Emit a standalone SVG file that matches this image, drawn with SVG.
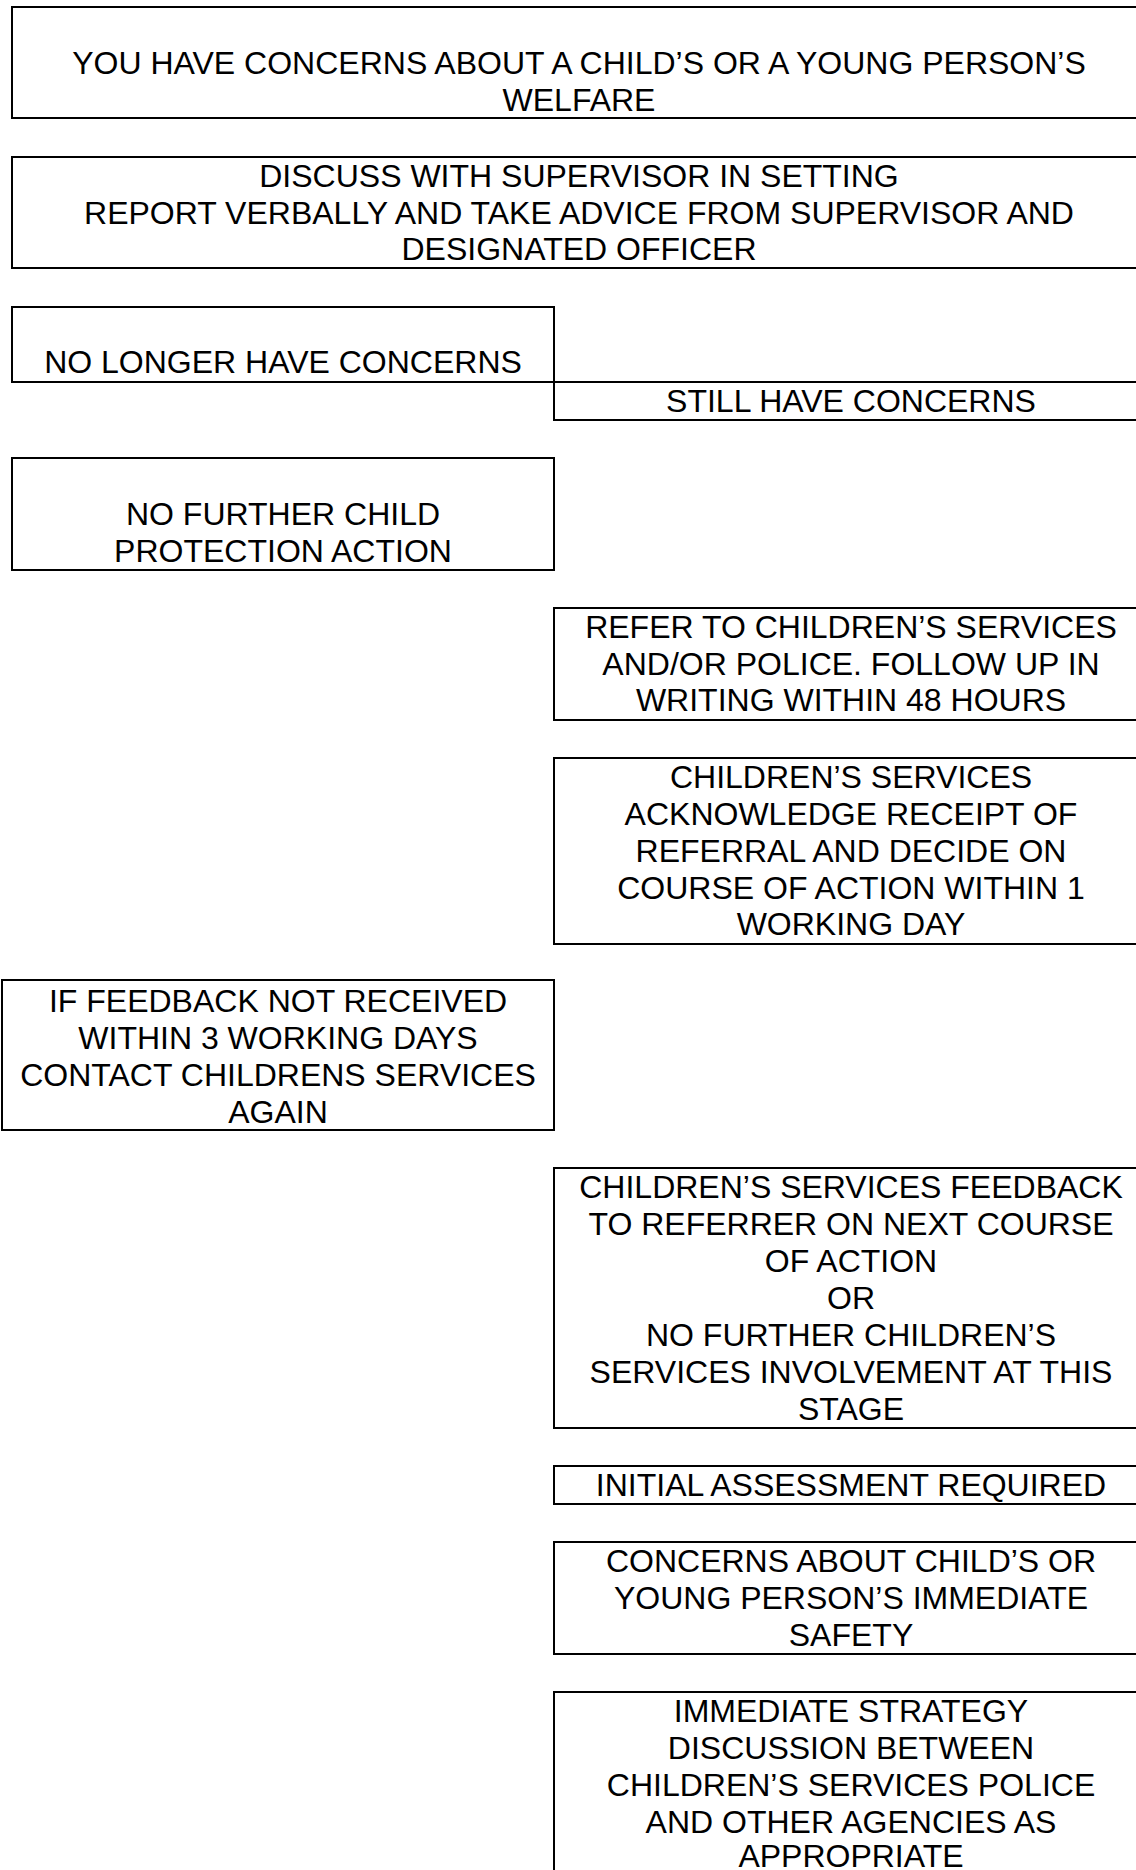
<svg xmlns="http://www.w3.org/2000/svg" width="1136" height="1870" viewBox="0 0 1136 1870">
<style>
.box{fill:#fff;stroke:#000;stroke-width:2}
.t{font-family:"Liberation Sans",Arial,sans-serif;font-size:32px;fill:#000;text-anchor:middle}
</style>
<rect x="0" y="0" width="1136" height="1870" fill="#fff"/>
<g id="connectors"></g>
<g id="n1"><rect class="box" x="12" y="7" width="1134" height="111"/>
<text class="t" x="579" y="74">YOU HAVE CONCERNS ABOUT A CHILD’S OR A YOUNG PERSON’S</text>
<text class="t" x="579" y="111">WELFARE</text></g>
<g id="n2"><rect class="box" x="12" y="157" width="1134" height="111"/>
<text class="t" x="579" y="187">DISCUSS WITH SUPERVISOR IN SETTING</text>
<text class="t" x="579" y="224">REPORT VERBALLY AND TAKE ADVICE FROM SUPERVISOR AND</text>
<text class="t" x="579" y="260">DESIGNATED OFFICER</text></g>
<g id="n3"><rect class="box" x="12" y="307" width="542" height="75"/>
<text class="t" x="283" y="373">NO LONGER HAVE CONCERNS</text></g>
<g id="n4"><rect class="box" x="554" y="382" width="594" height="38"/>
<text class="t" x="851" y="412">STILL HAVE CONCERNS</text></g>
<g id="n5"><rect class="box" x="12" y="458" width="542" height="112"/>
<text class="t" x="283" y="525">NO FURTHER CHILD</text>
<text class="t" x="283" y="562">PROTECTION ACTION</text></g>
<g id="n6"><rect class="box" x="554" y="608" width="594" height="112"/>
<text class="t" x="851" y="638">REFER TO CHILDREN’S SERVICES</text>
<text class="t" x="851" y="675">AND/OR POLICE. FOLLOW UP IN</text>
<text class="t" x="851" y="711">WRITING WITHIN 48 HOURS</text></g>
<g id="n7"><rect class="box" x="554" y="758" width="594" height="186"/>
<text class="t" x="851" y="788">CHILDREN’S SERVICES</text>
<text class="t" x="851" y="825">ACKNOWLEDGE RECEIPT OF</text>
<text class="t" x="851" y="862">REFERRAL AND DECIDE ON</text>
<text class="t" x="851" y="899">COURSE OF ACTION WITHIN 1</text>
<text class="t" x="851" y="935">WORKING DAY</text></g>
<g id="n8"><rect class="box" x="2" y="980" width="552" height="150"/>
<text class="t" x="278" y="1012">IF FEEDBACK NOT RECEIVED</text>
<text class="t" x="278" y="1049">WITHIN 3 WORKING DAYS</text>
<text class="t" x="278" y="1086">CONTACT CHILDRENS SERVICES</text>
<text class="t" x="278" y="1123">AGAIN</text></g>
<g id="n9"><rect class="box" x="554" y="1168" width="594" height="260"/>
<text class="t" x="851" y="1198">CHILDREN’S SERVICES FEEDBACK</text>
<text class="t" x="851" y="1235">TO REFERRER ON NEXT COURSE</text>
<text class="t" x="851" y="1272">OF ACTION</text>
<text class="t" x="851" y="1309">OR</text>
<text class="t" x="851" y="1346">NO FURTHER CHILDREN’S</text>
<text class="t" x="851" y="1383">SERVICES INVOLVEMENT AT THIS</text>
<text class="t" x="851" y="1420">STAGE</text></g>
<g id="n10"><rect class="box" x="554" y="1466" width="594" height="38"/>
<text class="t" x="851" y="1496">INITIAL ASSESSMENT REQUIRED</text></g>
<g id="n11"><rect class="box" x="554" y="1542" width="594" height="112"/>
<text class="t" x="851" y="1572">CONCERNS ABOUT CHILD’S OR</text>
<text class="t" x="851" y="1609">YOUNG PERSON’S IMMEDIATE</text>
<text class="t" x="851" y="1646">SAFETY</text></g>
<g id="n12"><rect class="box" x="554" y="1692" width="594" height="200"/>
<text class="t" x="851" y="1722">IMMEDIATE STRATEGY</text>
<text class="t" x="851" y="1759">DISCUSSION BETWEEN</text>
<text class="t" x="851" y="1796">CHILDREN’S SERVICES POLICE</text>
<text class="t" x="851" y="1833">AND OTHER AGENCIES AS</text>
<text class="t" x="851" y="1867">APPROPRIATE</text></g>
</svg>
